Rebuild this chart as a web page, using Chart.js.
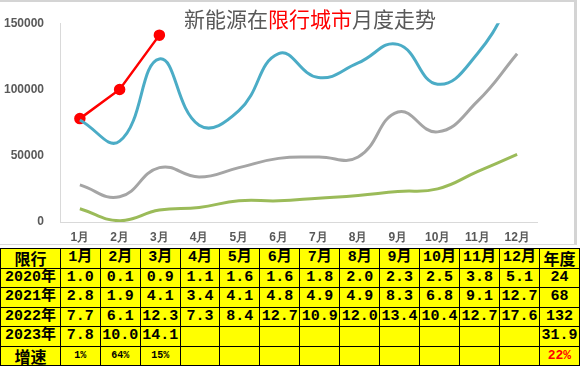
<!DOCTYPE html>
<html>
<head>
<meta charset="utf-8">
<script src="https://cdn.jsdelivr.net/npm/chart.js@4/dist/chart.umd.min.js"></script>
<style>
  body { margin: 0; background: #fff; }
  #wrap { position: relative; width: 580px; height: 366px; overflow: hidden; }
  #frame { position: absolute; left: 0; top: 0; width: 577px; height: 245px;
           border-top: 2px solid #d4d4d4; border-right: 3px solid #d4d4d4; border-bottom: 1px solid #d9d9d9; box-sizing: border-box; }
  #box { position: absolute; left: 0; top: 0; width: 576px; height: 246px; }
  #title { position: absolute; left: 184px; top: 6px; font: 21px "Noto Sans CJK SC", sans-serif; color: #595959; line-height: 24px; white-space: nowrap; }
  #title span { color: #ff0000; }
  table { position: absolute; left: 0; top: 248px; border-collapse: collapse; table-layout: fixed; background: #ffff00; }
  td { border: 1px solid #000; height: 18.5px; padding: 0; text-align: center; font: bold 15px "Liberation Mono", "Noto Sans CJK SC", monospace; color: #000; line-height: 18px; white-space: nowrap; overflow: hidden; }
  td.cn { font-family: "Noto Sans CJK SC", sans-serif; font-size: 16px; }
  td.pct { font-size: 10px; }
  td.red { color: #ff0000; font-size: 13px; }
</style>
</head>
<body>
<div id="wrap">
  <div id="frame"></div>
  <div id="box"><canvas id="grafico_linhas"></canvas></div>
  <div id="title">新能源在<span>限行城市</span>月度走势</div>
  <table id="tabela"></table>
</div>
<script>
const meses = ["1月","2月","3月","4月","5月","6月","7月","8月","9月","10月","11月","12月"];
const anos = ["2020年","2021年","2022年","2023年"];
const v2020 = [10000, 1000, 9000, 11000, 16000, 16000, 18000, 20000, 23000, 25000, 38000, 51000];
const v2021 = [28000, 19000, 41000, 34000, 41000, 48000, 49000, 49000, 83000, 68000, 91000, 127000];
const v2022 = [77000, 61000, 123000, 73000, 84000, 127000, 109000, 120000, 134000, 104000, 127000, 176000];
const v2023 = [78000, 100000, 141000];
const totalAno = ["24", "68", "132", "31.9"];
const crescimento = ["1%", "64%", "15%"];
const crescimentoAno = "22%";
const yTicks = [0, 50000, 100000, 150000];

// tabela de baixo
const tabela = document.getElementById('tabela');
let html = '<colgroup><col style="width:60px">';
for (let i = 0; i < 13; i++) html += '<col style="width:40px">';
html += '</colgroup>';
html += '<tr><td class="cn">限行</td>' + meses.map(m => '<td>' + m + '</td>').join('') + '<td class="cn">年度</td></tr>';
[v2020, v2021, v2022, v2023].forEach((serie, k) => {
  html += '<tr><td>' + anos[k] + '</td>';
  for (let i = 0; i < 12; i++) {
    html += '<td>' + (serie[i] !== undefined ? (serie[i] / 10000).toFixed(1) : '') + '</td>';
  }
  html += '<td>' + totalAno[k] + '</td></tr>';
});
html += '<tr><td class="cn">增速</td>';
for (let i = 0; i < 12; i++) html += '<td class="pct">' + (crescimento[i] || '') + '</td>';
html += '<td class="red">' + crescimentoAno + '</td></tr>';
tabela.innerHTML = html;

const fonteEixo = { family: 'Liberation Sans, Arial', size: 12, weight: 'bold' };

new Chart(document.getElementById('grafico_linhas'), {
  type: 'line',
  data: {
    labels: meses,
    datasets: [
      { label: '2020年', data: v2020, borderColor: '#9bbb59', borderWidth: 3, pointRadius: 0, tension: 0.45 },
      { label: '2021年', data: v2021, borderColor: '#a5a5a5', borderWidth: 3, pointRadius: 0, tension: 0.45 },
      { label: '2022年', data: v2022, borderColor: '#4bacc6', borderWidth: 3, pointRadius: 0, tension: 0.45 },
      { label: '2023年', data: v2023, borderColor: '#ff0000', backgroundColor: '#ff0000', borderWidth: 2.5,
        pointRadius: 4.5, pointBackgroundColor: '#ff0000', pointBorderColor: '#ff0000', tension: 0 }
    ]
  },
  options: {
    responsive: true,
    maintainAspectRatio: false,
    animation: false,
    layout: { padding: { top: 12, right: 39, left: 0, bottom: 0 } },
    plugins: { legend: { display: false }, tooltip: { enabled: false } },
    scales: {
      x: {
        offset: true,
        grid: { display: true, drawOnChartArea: false, drawTicks: false },
        border: { display: true, color: '#d9d9d9', width: 1 },
        ticks: { color: '#595959', font: fonteEixo, padding: 8, maxRotation: 0 },
        afterFit: (s) => { s.height = 24; }
      },
      y: {
        min: 0,
        max: 150000,
        afterBuildTicks: (s) => { s.ticks = yTicks.map(v => ({ value: v })); },
        grid: { display: true, drawOnChartArea: false, drawTicks: false },
        border: { display: true, color: '#d9d9d9', width: 1 },
        ticks: { color: '#595959', font: fonteEixo, padding: 16, callback: (v) => String(v) },
        afterFit: (s) => { s.width = 60; }
      }
    }
  }
});
</script>
</body>
</html>
